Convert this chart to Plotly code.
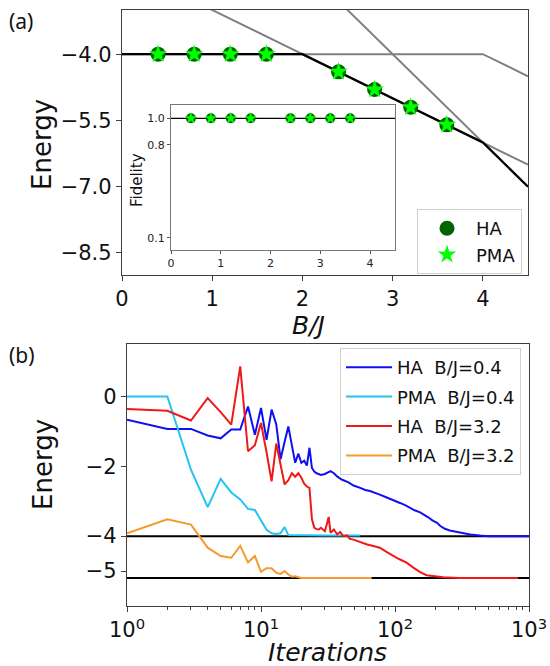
import plotly.graph_objects as go

# ---------------- panel (a): energy levels vs field B/J ----------------
b_grid = [0.0, 2.0, 4.0, 4.5]
level_flat = [-4.0, -4.0, -4.0, -4.5]
level_mid = [-2.0, -4.0, -6.0, -6.5]
level_steep = [2.0, -2.0, -6.0, -7.0]
ground = [-4.0, -4.0, -6.0, -7.0]

b_samples = [0.4, 0.8, 1.2, 1.6, 2.4, 2.8, 3.2, 3.6]
energy_ha = [-4.0, -4.0, -4.0, -4.0, -4.4, -4.8, -5.2, -5.6]
energy_pma = [-4.0, -4.0, -4.0, -4.0, -4.4, -4.8, -5.2, -5.6]

# inset: fidelity with the exact ground state
fidelity_ha = [1.0, 1.0, 1.0, 1.0, 1.0, 1.0, 1.0, 1.0]
fidelity_pma = [1.0, 1.0, 1.0, 1.0, 1.0, 1.0, 1.0, 1.0]
fid_ref_x = [0.0, 4.5]
fid_ref = [1.0, 1.0]

# ---------------- panel (b): energy vs optimisation iterations ----------------
exact_levels = [-4.0, -5.2]
exact_x = [1, 1000]

ha04_it = [1, 2, 3, 4, 5, 6, 7, 8, 9, 10, 11, 12, 13, 14, 15, 16, 17, 18, 19, 20,
           21, 22, 23, 24, 25, 26, 28, 30, 33, 35, 37, 40, 45, 49, 55, 60, 65, 70,
           77, 85, 92, 100, 109, 120, 129, 140, 154, 165, 177, 190, 206, 218, 236,
           256, 289, 325, 364, 430, 500, 1000]
ha04_e = [-0.67, -0.93, -0.93, -1.12, -1.2, -0.95, -0.95, -0.29, -1.1, -0.33,
          -1.24, -0.38, -0.8, -1.8, -1.3, -0.86, -1.4, -1.9, -1.64, -1.9,
          -1.84, -1.98, -1.47, -2.05, -2.15, -2.2, -2.25, -2.22, -2.14, -2.2,
          -2.29, -2.38, -2.46, -2.55, -2.62, -2.68, -2.71, -2.75, -2.81, -2.88,
          -2.93, -2.98, -3.05, -3.12, -3.19, -3.26, -3.32, -3.38, -3.46, -3.55,
          -3.62, -3.71, -3.79, -3.84, -3.88, -3.92, -3.95, -3.98, -4.0, -4.0]

pma04_it = [1, 2, 3, 4, 5, 6, 7, 8, 9, 10, 11, 12, 13, 14, 15, 16, 20, 30, 40, 55]
pma04_e = [0.0, 0.0, -2.1, -3.17, -2.36, -2.75, -2.95, -3.22, -3.25, -3.55,
           -3.82, -3.92, -3.94, -3.92, -3.74, -3.97, -3.98, -3.98, -3.98, -3.98]

ha32_it = [1, 2, 3, 4, 5, 6, 7, 8, 9, 10, 11, 12, 13, 14, 15, 16, 17, 18, 19, 20,
           21, 22, 23, 24, 25, 26, 27, 28, 30, 32, 33, 35, 37, 39, 41, 44, 46, 49,
           55, 62, 70, 77, 87, 95, 103, 112, 122, 137, 154, 172, 194, 229, 300, 830]
ha32_e = [-0.36, -0.41, -0.69, -0.05, -0.45, -0.81, 0.86, -1.57, -1.4, -0.76,
          -1.6, -2.43, -1.35, -1.95, -2.52, -2.4, -2.2, -2.3, -2.2, -2.33,
          -2.5, -2.58, -2.62, -3.52, -3.76, -3.8, -3.81, -3.76, -3.86, -3.45,
          -3.9, -3.81, -3.95, -3.88, -4.0, -3.98, -4.08, -4.1, -4.18, -4.24,
          -4.29, -4.33, -4.46, -4.55, -4.62, -4.69, -4.76, -4.9, -5.03, -5.12,
          -5.15, -5.18, -5.2, -5.2]

pma32_it = [1, 2, 3, 4, 5, 6, 7, 8, 9, 10, 11, 12, 13, 14, 15, 16, 17, 18, 20, 67]
pma32_e = [-3.92, -3.52, -3.67, -4.33, -4.57, -4.62, -4.28, -4.75, -4.57, -5.02,
           -4.92, -4.92, -5.05, -5.08, -5.0, -5.1, -5.16, -5.15, -5.2, -5.2]

# ---------------- layout helpers (pixel -> paper) ----------------
W, H = 550, 666


def px(x):
    return x / W


def py(y):
    return 1 - y / H


FONT = "DejaVu Sans"
GRAY = "#808080"
FRAME = "#3f3f3f"

fig = go.Figure()

# panel (a) spectrum
for lev in (level_flat, level_mid, level_steep):
    fig.add_trace(go.Scatter(x=b_grid, y=lev, mode="lines",
                             line=dict(color=GRAY, width=2),
                             showlegend=False, hoverinfo="skip",
                             xaxis="x", yaxis="y"))
fig.add_trace(go.Scatter(x=b_grid, y=ground, mode="lines",
                         line=dict(color="black", width=2.2),
                         showlegend=False, xaxis="x", yaxis="y"))
fig.add_trace(go.Scatter(x=b_samples, y=energy_ha, mode="markers", name="HA",
                         marker=dict(symbol="circle", size=15, color="#006400"),
                         legend="legend", xaxis="x", yaxis="y"))
fig.add_trace(go.Scatter(x=b_samples, y=energy_pma, mode="markers", name="PMA",
                         marker=dict(symbol="star", size=14, color="#00ff00",
                                     line=dict(width=0)),
                         legend="legend", xaxis="x", yaxis="y"))

# inset
fig.add_trace(go.Scatter(x=fid_ref_x, y=fid_ref, mode="lines",
                         line=dict(color="black", width=1.2),
                         showlegend=False, xaxis="x2", yaxis="y2"))
fig.add_trace(go.Scatter(x=b_samples, y=fidelity_ha, mode="markers",
                         marker=dict(symbol="circle", size=10, color="#006400"),
                         showlegend=False, xaxis="x2", yaxis="y2"))
fig.add_trace(go.Scatter(x=b_samples, y=fidelity_pma, mode="markers",
                         marker=dict(symbol="star", size=9, color="#00ff00",
                                     line=dict(width=0)),
                         showlegend=False, xaxis="x2", yaxis="y2"))

# panel (b) convergence
for lev in exact_levels:
    fig.add_trace(go.Scatter(x=exact_x, y=[lev, lev], mode="lines",
                             line=dict(color="black", width=2),
                             showlegend=False, xaxis="x3", yaxis="y3"))

NB = "\u00a0"
series_b = [
    (ha04_it, ha04_e, "#1010f0", f"HA{NB}{NB}B/J=0.4"),
    (pma04_it, pma04_e, "#22c4f2", f"PMA{NB}{NB}B/J=0.4"),
    (ha32_it, ha32_e, "#f01818", f"HA{NB}{NB}B/J=3.2"),
    (pma32_it, pma32_e, "#f59a2c", f"PMA{NB}{NB}B/J=3.2"),
]
for k, (it, e, col, name) in enumerate(series_b):
    fig.add_trace(go.Scatter(x=it, y=e, mode="lines", name=name,
                             line=dict(color=col, width=2),
                             legendgroup=f"g{k}",
                             legend="legend2", xaxis="x3", yaxis="y3"))

axis_common = dict(showline=True, mirror=True, linecolor=FRAME, linewidth=1.3,
                   ticks="outside", ticklen=5, tickwidth=1.2, tickcolor=FRAME,
                   showgrid=False, zeroline=False, automargin=False,
                   tickfont=dict(family=FONT, size=21, color="#111"))

inset_common = dict(showline=True, mirror=True, linecolor="#777", linewidth=1,
                    ticks="outside", ticklen=3, tickwidth=1, tickcolor="#555",
                    showgrid=False, zeroline=False, automargin=False,
                    tickfont=dict(family=FONT, size=11, color="#222"))

fig.update_layout(
    width=W, height=H,
    margin=dict(l=0, r=0, t=0, b=0, pad=0, autoexpand=False),
    paper_bgcolor="white", plot_bgcolor="white",
    xaxis=dict(domain=[px(122), px(528)], range=[0, 4.5], anchor="y",
               tickvals=[0, 1, 2, 3, 4], **axis_common),
    yaxis=dict(domain=[py(275), py(10)], range=[-9, -3], anchor="x",
               tickvals=[-4.0, -5.5, -7.0, -8.5], tickformat=".1f", **axis_common),
    xaxis2=dict(domain=[px(171), px(395)], range=[0, 4.5], anchor="y2",
                tickvals=[0, 1, 2, 3, 4], **inset_common),
    yaxis2=dict(domain=[py(250), py(105)], range=[0.008, 1.1], anchor="x2",
                tickvals=[0.1, 0.8, 1.0], tickformat=".1f", **inset_common),
    xaxis3=dict(domain=[px(127), px(529)], type="log", range=[0, 3], anchor="y3",
                tickvals=[1, 10, 100, 1000],
                ticktext=["10<sup>0</sup>", "10<sup>1</sup>",
                          "10<sup>2</sup>", "10<sup>3</sup>"],
                minor=dict(ticks="outside", ticklen=3, tickcolor=FRAME,
                           tickvals=[2, 3, 4, 5, 6, 7, 8, 9,
                                     20, 30, 40, 50, 60, 70, 80, 90,
                                     200, 300, 400, 500, 600, 700, 800, 900]),
                **axis_common),
    yaxis3=dict(domain=[py(606), py(344)], range=[-6, 1.5], anchor="x3",
                tickvals=[0, -2, -4, -5], **axis_common),
    legend=dict(x=px(417), y=py(209), xanchor="left", yanchor="top",
                bgcolor="white", bordercolor="#d0d0d0", borderwidth=1,
                font=dict(family=FONT, size=18, color="#111"),
                itemwidth=48, itemsizing="trace"),
    legend2=dict(x=px(340), y=py(348), xanchor="left", yanchor="top",
                 bgcolor="white", bordercolor="#d0d0d0", borderwidth=1,
                 tracegroupgap=3, itemwidth=46,
                 font=dict(family=FONT, size=18, color="#111")),
    showlegend=True,
)

annots = [
    dict(text="(a)", x=px(7), y=py(21), xanchor="left", yanchor="middle",
         font=dict(family="Noto Sans", size=21, color="#111")),
    dict(text="(b)", x=px(7), y=py(355), xanchor="left", yanchor="middle",
         font=dict(family="Noto Sans", size=21, color="#111")),
    dict(text="Energy", x=px(42), y=py(145), textangle=-90,
         xanchor="center", yanchor="middle",
         font=dict(family=FONT, size=26, color="#111")),
    dict(text="<i>B/J</i>", x=px(308), y=py(325), xanchor="center", yanchor="middle",
         font=dict(family=FONT, size=25, color="#111")),
    dict(text="Fidelity", x=px(137), y=py(180), textangle=-90,
         xanchor="center", yanchor="middle",
         font=dict(family=FONT, size=15, color="#111")),
    dict(text="Energy", x=px(43), y=py(465), textangle=-90,
         xanchor="center", yanchor="middle",
         font=dict(family=FONT, size=26, color="#111")),
    dict(text="<i>Iterations</i>", x=px(327), y=py(652), xanchor="center",
         yanchor="middle", font=dict(family=FONT, size=25, color="#111")),
]
for a in annots:
    a.update(xref="paper", yref="paper", showarrow=False)
fig.update_layout(annotations=annots)

fig.write_html("out.html")
